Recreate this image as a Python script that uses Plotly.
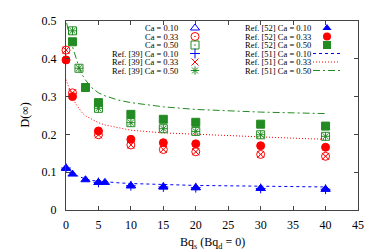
import plotly.graph_objects as go

# ---- data ----
# This work
x_010 = [0, 5, 10, 15, 20, 30, 40]
y_010 = [0.111, 0.073, 0.064, 0.061, 0.059, 0.057, 0.055]
x_033 = [0, 1, 5, 10, 15, 20, 30, 40]
y_033 = [0.423, 0.310, 0.199, 0.172, 0.160, 0.154, 0.147, 0.142]
x_050 = [1, 2, 5, 10, 15, 20, 30, 40]
y_050 = [0.474, 0.375, 0.269, 0.231, 0.215, 0.208, 0.199, 0.195]

# Ref. [39]
x_39_010 = [0, 5, 10, 15, 20, 30, 40]
y_39_010 = [0.111, 0.073, 0.064, 0.061, 0.059, 0.057, 0.055]
x_39_033 = [0, 1, 5, 10, 15, 20, 30, 40]
y_39_033 = [0.423, 0.310, 0.199, 0.172, 0.160, 0.154, 0.147, 0.142]
x_39_050 = [1, 2, 5, 10, 15, 20, 30, 40]
y_39_050 = [0.474, 0.375, 0.269, 0.231, 0.215, 0.208, 0.199, 0.195]

# Ref. [52]
x_52_010 = [0, 1, 3, 5, 6, 10, 15, 20, 30, 40]
y_52_010 = [0.110, 0.095, 0.080, 0.073, 0.073, 0.064, 0.061, 0.059, 0.057, 0.055]
x_52_033 = [0, 1, 5, 10, 15, 20, 30, 40]
y_52_033 = [0.397, 0.300, 0.209, 0.187, 0.178, 0.175, 0.170, 0.166]
x_52_050 = [1, 3, 5, 10, 15, 20, 30, 40]
y_52_050 = [0.445, 0.324, 0.284, 0.253, 0.240, 0.232, 0.227, 0.222]

# Ref. [51] curves
x_51 = [0, 0.5, 1, 1.5, 2, 2.5, 3, 4, 5, 6, 8, 10, 15, 20, 25, 30, 35, 40]
y_51_010 = [0.112, 0.104, 0.097, 0.092, 0.088, 0.085, 0.082, 0.078, 0.076, 0.074,
            0.072, 0.070, 0.067, 0.065, 0.064, 0.063, 0.062, 0.061]
y_51_033 = [0.345, 0.320, 0.298, 0.281, 0.268, 0.257, 0.249, 0.239, 0.231, 0.225,
            0.217, 0.211, 0.204, 0.200, 0.196, 0.193, 0.190, 0.187]
x_51g = [0.1, 0.5, 1, 1.5, 2, 2.5, 3, 4, 5, 6, 8, 10, 15, 20, 25, 30, 35, 40]
y_51_050 = [0.495, 0.462, 0.432, 0.405, 0.378, 0.358, 0.344, 0.323, 0.310, 0.302,
            0.291, 0.284, 0.273, 0.266, 0.262, 0.259, 0.257, 0.255]

x_ticks = [0, 5, 10, 15, 20, 25, 30, 35, 40, 45]
y_ticks = [0, 0.1, 0.2, 0.3, 0.4, 0.5]
y_tick_text = ["0", "0.1", "0.2", "0.3", "0.4", "0.5"]

BLUE = "#0000ff"
RED = "#ff0000"
GREEN = "#228b22"
FONT = "Liberation Serif"
DASH_BLUE = "3px,3px"
DASH_RED = "1px,2px"
DASH_GREEN = "7px,3px,2px,3px"

fig = go.Figure()

def add_line(x, y, color, dash, name):
    fig.add_trace(go.Scatter(x=x, y=y, mode="lines", name=name,
                             line=dict(color=color, width=1, dash=dash),
                             showlegend=False, cliponaxis=True))

def add_pts(x, y, color, symbol, size, name, lw=1):
    fig.add_trace(go.Scatter(x=x, y=y, mode="markers", name=name,
                             marker=dict(color=color, symbol=symbol, size=size,
                                         line=dict(color=color, width=lw)),
                             showlegend=False, cliponaxis=False))

add_line(x_51, y_51_010, BLUE, DASH_BLUE, "Ref. [51] Ca = 0.10")
add_line(x_51, y_51_033, RED, DASH_RED, "Ref. [51] Ca = 0.33")
add_line(x_51g, y_51_050, GREEN, DASH_GREEN, "Ref. [51] Ca = 0.50")

add_pts(x_52_010, y_52_010, BLUE, "triangle-up", 8, "Ref. [52] Ca = 0.10")
add_pts(x_52_033, y_52_033, RED, "circle", 8, "Ref. [52] Ca = 0.33")
add_pts(x_52_050, y_52_050, GREEN, "square", 8, "Ref. [52] Ca = 0.50")

add_pts(x_010, y_010, BLUE, "triangle-up-open", 8, "Ca = 0.10")
add_pts(x_033, y_033, RED, "circle-open-dot", 8, "Ca = 0.33")
add_pts(x_050, y_050, GREEN, "square-open-dot", 8, "Ca = 0.50")

add_pts(x_39_010, y_39_010, BLUE, "cross-thin-open", 7, "Ref. [39] Ca = 0.10")
add_pts(x_39_033, y_39_033, RED, "x-thin-open", 7, "Ref. [39] Ca = 0.33")
add_pts(x_39_050, y_39_050, GREEN, "asterisk-open", 7, "Ref. [39] Ca = 0.50")

# ---- gnuplot-style key drawn on an overlay axis in pixel units ----
L, R, T, B = 58, 350, 13, 202
rows = [20, 28.5, 37, 45.5, 54, 62.5]
left_items = [
    ("Ca = 0.10", BLUE, "triangle-up-open", 8),
    ("Ca = 0.33", RED, "circle-open-dot", 8),
    ("Ca = 0.50", GREEN, "square-open-dot", 8),
    ("Ref. [39] Ca = 0.10", BLUE, "cross-thin-open", 7),
    ("Ref. [39] Ca = 0.33", RED, "x-thin-open", 7),
    ("Ref. [39] Ca = 0.50", GREEN, "asterisk-open", 7),
]
right_items = [
    ("Ref. [52] Ca = 0.10", BLUE, "triangle-up", None),
    ("Ref. [52] Ca = 0.33", RED, "circle", None),
    ("Ref. [52] Ca = 0.50", GREEN, "square", None),
    ("Ref. [51] Ca = 0.10", BLUE, None, DASH_BLUE),
    ("Ref. [51] Ca = 0.33", RED, None, DASH_RED),
    ("Ref. [51] Ca = 0.50", GREEN, None, DASH_GREEN),
]
annotations = []
for (txt, col, sym, sz), yy in zip(left_items, rows):
    fig.add_trace(go.Scatter(x=[187], y=[yy], xaxis="x2", yaxis="y2", mode="markers",
                             marker=dict(color=col, symbol=sym, size=sz,
                                         line=dict(color=col, width=1)),
                             showlegend=False, hoverinfo="skip", cliponaxis=False))
    annotations.append(dict(x=171, y=yy, xref="x2", yref="y2", text=txt,
                            showarrow=False, xanchor="right", yanchor="middle",
                            borderpad=0,
                            font=dict(family=FONT, size=8.5, color="black")))
for (txt, col, sym, dash), yy in zip(right_items, rows):
    if sym:
        fig.add_trace(go.Scatter(x=[319], y=[yy], xaxis="x2", yaxis="y2", mode="markers",
                                 marker=dict(color=col, symbol=sym, size=8),
                                 showlegend=False, hoverinfo="skip", cliponaxis=False))
    else:
        fig.add_trace(go.Scatter(x=[305, 332], y=[yy, yy], xaxis="x2", yaxis="y2",
                                 mode="lines", line=dict(color=col, width=1, dash=dash),
                                 showlegend=False, hoverinfo="skip", cliponaxis=False))
    annotations.append(dict(x=236, y=yy, xref="x2", yref="y2", text=txt,
                            showarrow=False, xanchor="left", yanchor="middle",
                            borderpad=0,
                            font=dict(family=FONT, size=8.5, color="black")))

# axis titles
annotations.append(dict(x=0.5, y=-(235 - B) / (B - T), xref="paper", yref="paper",
                        text="Bq<sub>s</sub> (Bq<sub>d</sub> = 0)", showarrow=False,
                        xanchor="center", yanchor="middle",
                        font=dict(family=FONT, size=12, color="black")))
annotations.append(dict(x=-(L - 16) / (R - L), y=0.5, xref="paper", yref="paper",
                        text="D(∞)", showarrow=False, textangle=-90,
                        xanchor="center", yanchor="middle",
                        font=dict(family=FONT, size=12, color="black")))

axis_common = dict(showgrid=False, zeroline=False, showline=True, mirror="allticks",
                   linecolor="#444", linewidth=1, ticks="inside", ticklen=4,
                   tickcolor="#444", tickwidth=1, automargin=False,
                   tickfont=dict(family=FONT, size=12, color="black"))

fig.update_layout(
    width=374, height=249,
    margin=dict(l=L, r=374 - R, t=T, b=249 - B, autoexpand=False),
    plot_bgcolor="rgba(0,0,0,0)", paper_bgcolor="white",
    showlegend=False,
    xaxis=dict(range=[0, 45], tickvals=x_ticks, ticktext=[str(v) for v in x_ticks],
               ticklabelstandoff=4, **axis_common),
    yaxis=dict(range=[0, 0.5], tickvals=y_ticks, ticktext=y_tick_text,
               ticklabelstandoff=6, **axis_common),
    xaxis2=dict(range=[L, R], domain=[0, 1], anchor="y2", visible=False,
                fixedrange=True, automargin=False),
    yaxis2=dict(range=[B, T], domain=[0, 1], anchor="x2", visible=False,
                fixedrange=True, automargin=False),
    annotations=annotations,
)

fig.write_html("out.html")
